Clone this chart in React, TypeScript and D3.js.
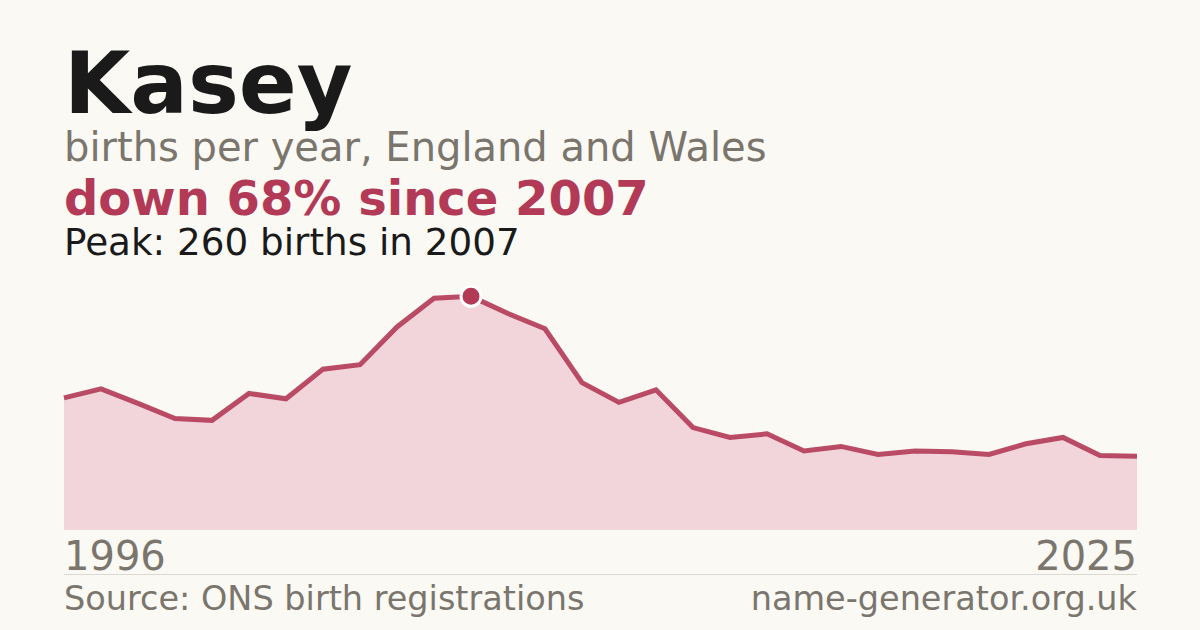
import React from 'react';
import { scaleLinear, line, area, max } from 'd3';

const years = [
    1996, 1997, 1998, 1999, 2000, 2001, 2002, 2003, 2004, 2005, 2006, 2007, 2008, 2009, 2010,
    2011, 2012, 2013, 2014, 2015, 2016, 2017, 2018, 2019, 2020, 2021, 2022, 2023, 2024, 2025,
];
const births = [
    147, 157, 141, 124, 122, 152, 146, 179, 184, 226, 258, 260, 241, 224, 164,
    142, 156, 114, 103, 107, 88, 93, 84, 88, 87, 84, 96, 103, 83, 82,
];

const title = 'Kasey';
const subtitle = 'births per year, England and Wales';
const headline = 'down 68% since 2007';
const peakLine = 'Peak: 260 births in 2007';
const source = 'Source: ONS birth registrations';
const site = 'name-generator.org.uk';

const W = 1200;
const H = 630;
const left = 64;
const right = 1137;
const bottom = 530;
const top = 273;

const font = "'DejaVu Sans', sans-serif";
const red = '#b23a57';
const grey = '#7a756d';

export default function App() {
    const peak = max(births) || 0;
    const peakIdx = births.indexOf(peak);

    const xScale = scaleLinear()
        .domain([years[0], years[years.length - 1]])
        .range([left, right]);
    const yScale = scaleLinear()
        .domain([0, peak * 1.1])
        .range([bottom, top]);

    const pts = years.map((y, i) => [y, births[i]] as [number, number]);
    const areaPath = area<[number, number]>()
        .x((d) => xScale(d[0]))
        .y0(bottom)
        .y1((d) => yScale(d[1]))(pts);
    const linePath = line<[number, number]>()
        .x((d) => xScale(d[0]))
        .y((d) => yScale(d[1]))(pts);

    return (
        <svg
            width={W}
            height={H}
            style={{ position: 'absolute', left: 0, top: 0, display: 'block' }}
            fontFamily={font}
        >
            <rect width={W} height={H} fill="#faf9f4" />
            <text x={left} y={113} fontSize={85.5} fontWeight="bold" fill="#1a1a1a">
                {title}
            </text>
            <text x={left} y={161} fontSize={40} fill={grey}>
                {subtitle}
            </text>
            <text x={left} y={215} fontSize={48} fontWeight="bold" fill={red}>
                {headline}
            </text>
            <text x={left} y={255} fontSize={37.3} fill="#1a1a1a">
                {peakLine}
            </text>

            <path d={areaPath || ''} fill="#f1d5da" />
            <path d={linePath || ''} fill="none" stroke={red} strokeWidth={5} strokeOpacity={0.9} />
            <circle
                cx={xScale(years[peakIdx])}
                cy={yScale(peak)}
                r={10}
                fill={red}
                stroke="#ffffff"
                strokeWidth={3}
            />

            <text x={left} y={570} fontSize={40} fill={grey}>
                {years[0]}
            </text>
            <text x={right} y={570} fontSize={40} fill={grey} textAnchor="end">
                {years[years.length - 1]}
            </text>
            <line x1={left} x2={right} y1={574.5} y2={574.5} stroke="#dcd9d2" strokeWidth={1} />
            <text x={left} y={610} fontSize={33.5} fill={grey}>
                {source}
            </text>
            <text x={right} y={610} fontSize={33.5} fill={grey} textAnchor="end">
                {site}
            </text>
        </svg>
    );
}
